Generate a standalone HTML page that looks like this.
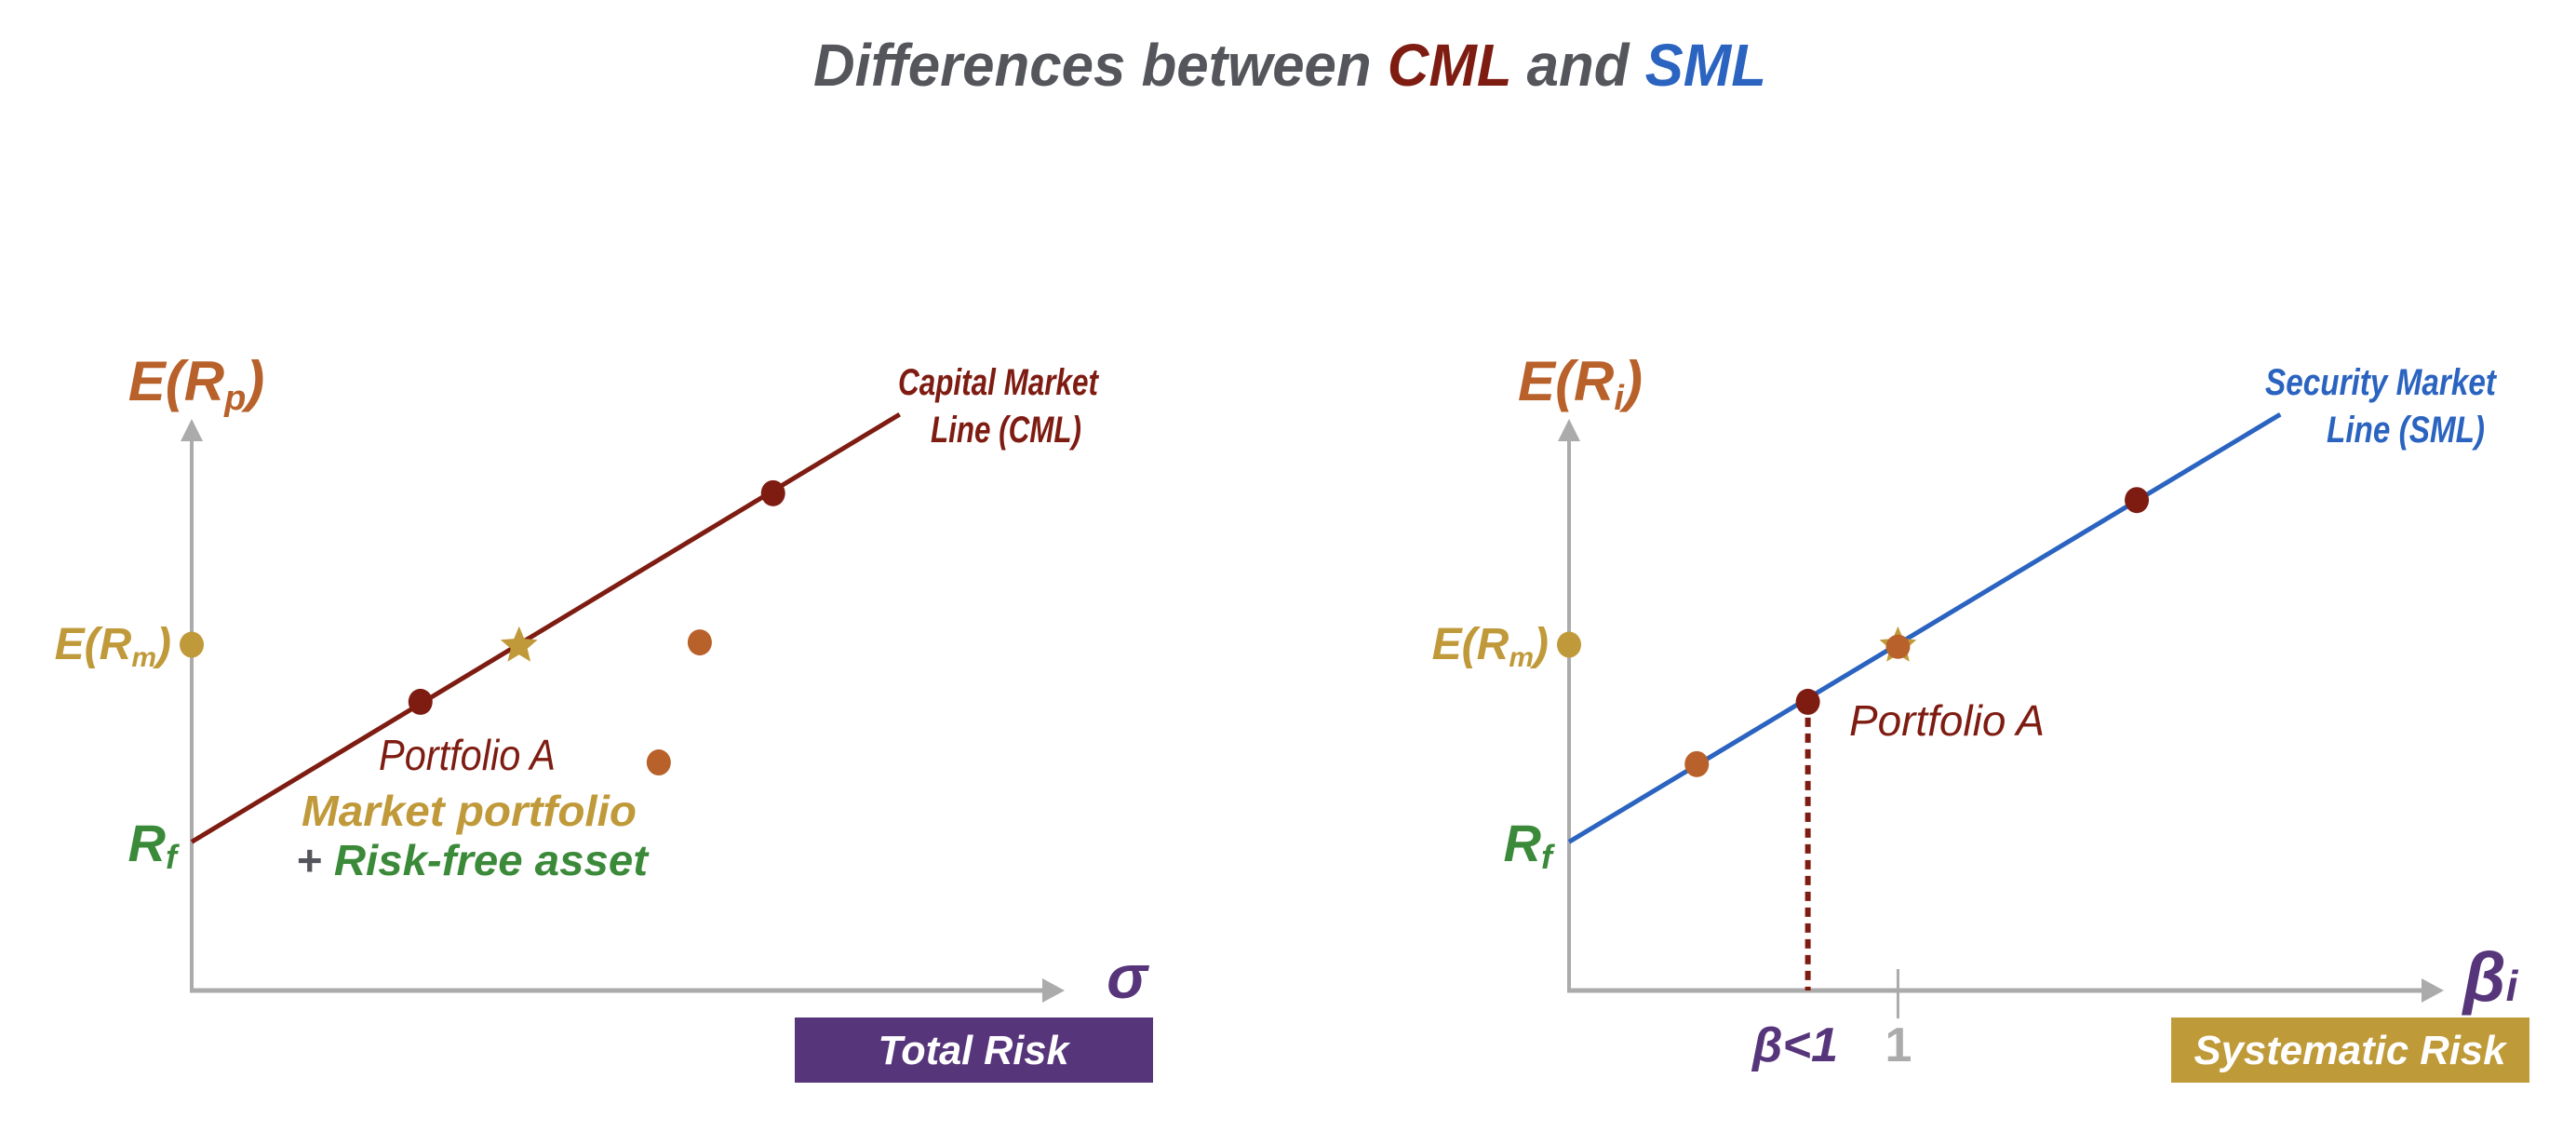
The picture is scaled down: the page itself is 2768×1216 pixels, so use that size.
<!DOCTYPE html>
<html><head><meta charset="utf-8"><style>
html,body{margin:0;padding:0;background:#fff;}
svg{display:block;font-family:"Liberation Sans",sans-serif;}
</style></head><body>
<svg id="chart" width="2768" height="1216" viewBox="0 0 2768 1216">
<text x="1386" y="92" text-anchor="middle" font-size="64" font-weight="bold" font-style="italic" fill="#54565c" textLength="1024" lengthAdjust="spacingAndGlyphs">Differences between <tspan fill="#7e1c12">CML</tspan> and <tspan fill="#2a63c0">SML</tspan></text>
<g id="left"></g>
<g id="right"></g>
</svg>
<script>
// CML data (sigma, expected return in 0-100 units)
const cmlLine = [[0, 26], [81.1, 100.8]];
const cmlDotsX = [26.2, 66.6];
const cmlDotsY = [50.5, 87];
const cmlStar = [37.5, 60.3];
const offDotsX = [58.2, 53.5];
const offDotsY = [60.9, 39.9];
const erm = 60.5;
// SML data (beta units, expected return)
const smlLine = [[0, 26], [81.3, 100.8]];
const smlOrangeX = [14.6];
const smlOrangeY = [39.6];
const smlDarkX = [27.3, 64.9];
const smlDarkY = [50.5, 85.8];
const smlStar = [37.6, 60.3];
const betaOne = 37.6;

const NS = 'http://www.w3.org/2000/svg';
function mk(parent, tag, attrs, text) {
  const e = document.createElementNS(NS, tag);
  for (const k in attrs) e.setAttribute(k, attrs[k]);
  if (text !== undefined) e.textContent = text;
  parent.appendChild(e);
  return e;
}
function starPts(cx, cy, R) {
  const p = [];
  for (let i = 0; i < 10; i++) {
    const r = i % 2 ? R * 0.45 : R;
    const a = -Math.PI / 2 + i * Math.PI / 5;
    p.push((cx + r * Math.cos(a)).toFixed(1) + ',' + (cy + r * Math.sin(a)).toFixed(1));
  }
  return p.join(' ');
}
const GREY = '#ababab', ORANGE = '#b8612a', GOLD = '#c09a3a', GREEN = '#3b8a3a', DRED = '#7e1c12', PURPLE = '#56357a';

function axes(g, x0, x1, y0, y1) {
  const a1 = mk(g, 'line', {x1: x0, y1: y0, x2: x0, y2: y1 + 20, stroke: GREY, 'stroke-width': 4});
  
  
  const h1 = mk(g, 'polygon', {points: `${x0 - 12},${y1 + 24} ${x0 + 12},${y1 + 24} ${x0},${y1}`, fill: GREY});
  
  
  const a2 = mk(g, 'line', {x1: x0 - 2, y1: y0, x2: x1 - 20, y2: y0, stroke: GREY, 'stroke-width': 5});
  
  
  const h2 = mk(g, 'polygon', {points: `${x1 - 24},${y0 - 13} ${x1 - 24},${y0 + 13} ${x1},${y0}`, fill: GREY});
  
  
}
function dot(g, x, y, c, name) {
  const d = mk(g, 'ellipse', {cx: x, cy: y, rx: 13, ry: 14, fill: c});
  
  
}
function txt(g, x, y, s, attrs, name, len) {
  const t = mk(g, 'text', Object.assign({x: x, y: y}, attrs), s);
  if (len) { t.setAttribute('textLength', len); t.setAttribute('lengthAdjust', 'spacingAndGlyphs'); }
  
  
  return t;
}
const BI = {'font-weight': 'bold', 'font-style': 'italic'};

// ---- Left chart ----
(function () {
  const g = document.getElementById('left');
  const X0 = 206, X1 = 1144, Y0 = 1064, Y1 = 450;
  const sx = v => X0 + v / 100 * (X1 - X0);
  const sy = v => Y0 - v / 100 * (Y0 - Y1);
  axes(g, X0, X1, Y0, Y1);
  const l = mk(g, 'line', {x1: sx(cmlLine[0][0]), y1: sy(cmlLine[0][1]), x2: sx(cmlLine[1][0]), y2: sy(cmlLine[1][1]), stroke: DRED, 'stroke-width': 5});
  
  
  dot(g, X0, sy(erm), GOLD, 'market-return-dot');
  for (let i = 0; i < cmlDotsX.length; i++) dot(g, sx(cmlDotsX[i]), sy(cmlDotsY[i]), DRED, 'cml-portfolio-dot');
  for (let i = 0; i < offDotsX.length; i++) dot(g, sx(offDotsX[i]), sy(offDotsY[i]), ORANGE, 'inefficient-portfolio-dot');
  const s = mk(g, 'polygon', {points: starPts(sx(cmlStar[0]), sy(cmlStar[1]), 21), fill: GOLD});
  
  
  txt(g, 211, 430, '', Object.assign({'font-size': 60, fill: ORANGE, 'text-anchor': 'middle'}, BI), 'y-axis-title').innerHTML = 'E(R<tspan font-size="38" dy="10">p</tspan><tspan dy="-10">)</tspan>';
  txt(g, 184, 708, '', Object.assign({'font-size': 48, fill: GOLD, 'text-anchor': 'end'}, BI), 'market-return-label').innerHTML = 'E(R<tspan font-size="30" dy="8">m</tspan><tspan dy="-8">)</tspan>';
  txt(g, 190, 925, '', Object.assign({'font-size': 56, fill: GREEN, 'text-anchor': 'end'}, BI), 'risk-free-label').innerHTML = 'R<tspan font-size="36" dy="8">f</tspan>';
  txt(g, 1180, 424, 'Capital Market', Object.assign({'font-size': 40, fill: DRED, 'text-anchor': 'end'}, BI), 'cml-label-line1', 215);
  txt(g, 1162, 475, 'Line (CML)', Object.assign({'font-size': 40, fill: DRED, 'text-anchor': 'end'}, BI), 'cml-label-line2', 162);
  txt(g, 502, 827, 'Portfolio A', {'font-size': 46, 'font-style': 'italic', fill: DRED, 'text-anchor': 'middle'}, 'portfolio-a-label', 190);
  txt(g, 504, 887, 'Market portfolio', Object.assign({'font-size': 46, fill: GOLD, 'text-anchor': 'middle'}, BI), 'market-portfolio-label', 360);
  txt(g, 507, 940, '', Object.assign({'font-size': 46, fill: GREEN, 'text-anchor': 'middle', textLength: 378, lengthAdjust: 'spacingAndGlyphs'}, BI), 'risk-free-asset-label').innerHTML = '<tspan fill="#54565c">+ </tspan>Risk-free asset';
  txt(g, 1211, 1072, 'σ', Object.assign({'font-size': 66, fill: PURPLE, 'text-anchor': 'middle'}, BI), 'x-axis-title');
  const b = mk(g, 'rect', {x: 854, y: 1093, width: 385, height: 70, fill: '#56357a'});
  
  
  txt(g, 1046, 1143, 'Total Risk', Object.assign({'font-size': 44, fill: '#fff', 'text-anchor': 'middle'}, BI), 'total-risk-label', 205);
})();

// ---- Right chart ----
(function () {
  const g = document.getElementById('right');
  const X0 = 1686, X1 = 2626, Y0 = 1064, Y1 = 450;
  const sx = v => X0 + v / 100 * (X1 - X0);
  const sy = v => Y0 - v / 100 * (Y0 - Y1);
  axes(g, X0, X1, Y0, Y1);
  const tk = mk(g, 'line', {x1: sx(betaOne), y1: 1041, x2: sx(betaOne), y2: 1094, stroke: GREY, 'stroke-width': 3});
  
  
  const dl = mk(g, 'line', {x1: sx(smlDarkX[0]), y1: sy(smlDarkY[0]), x2: sx(smlDarkX[0]), y2: Y0, stroke: DRED, 'stroke-width': 6, 'stroke-dasharray': '10 7'});
  
  
  const l = mk(g, 'line', {x1: sx(smlLine[0][0]), y1: sy(smlLine[0][1]), x2: sx(smlLine[1][0]), y2: sy(smlLine[1][1]), stroke: '#2a63c0', 'stroke-width': 5});
  
  
  dot(g, X0, sy(erm), GOLD, 'market-return-dot');
  for (let i = 0; i < smlOrangeX.length; i++) dot(g, sx(smlOrangeX[i]), sy(smlOrangeY[i]), ORANGE, 'security-dot');
  for (let i = 0; i < smlDarkX.length; i++) dot(g, sx(smlDarkX[i]), sy(smlDarkY[i]), DRED, 'sml-portfolio-dot');
  const s = mk(g, 'polygon', {points: starPts(sx(smlStar[0]), sy(smlStar[1]), 21), fill: GOLD});
  
  
  const c = mk(g, 'circle', {cx: sx(smlStar[0]), cy: sy(smlStar[1]) + 1, r: 13, fill: ORANGE});
  
  
  txt(g, 1698, 430, '', Object.assign({'font-size': 60, fill: ORANGE, 'text-anchor': 'middle'}, BI), 'y-axis-title').innerHTML = 'E(R<tspan font-size="38" dy="10">i</tspan><tspan dy="-10">)</tspan>';
  txt(g, 1664, 708, '', Object.assign({'font-size': 48, fill: GOLD, 'text-anchor': 'end'}, BI), 'market-return-label').innerHTML = 'E(R<tspan font-size="30" dy="8">m</tspan><tspan dy="-8">)</tspan>';
  txt(g, 1668, 925, '', Object.assign({'font-size': 56, fill: GREEN, 'text-anchor': 'end'}, BI), 'risk-free-label').innerHTML = 'R<tspan font-size="36" dy="8">f</tspan>';
  txt(g, 2682, 424, 'Security Market', Object.assign({'font-size': 40, fill: '#2a63c0', 'text-anchor': 'end'}, BI), 'sml-label-line1', 248);
  txt(g, 2670, 475, 'Line (SML)', Object.assign({'font-size': 40, fill: '#2a63c0', 'text-anchor': 'end'}, BI), 'sml-label-line2', 170);
  txt(g, 2092, 790, 'Portfolio A', {'font-size': 46, 'font-style': 'italic', fill: DRED, 'text-anchor': 'middle'}, 'portfolio-a-label', 210);
  txt(g, 1929, 1140, 'β<1', Object.assign({'font-size': 52, fill: PURPLE, 'text-anchor': 'middle'}, BI), 'beta-less-than-one-label', 92);
  txt(g, 2040, 1140, '1', {'font-size': 52, 'font-weight': 'bold', fill: GREY, 'text-anchor': 'middle'}, 'beta-one-label');
  txt(g, 2676, 1075, '', Object.assign({'font-size': 74, fill: PURPLE, 'text-anchor': 'middle'}, BI), 'x-axis-title').innerHTML = 'β<tspan font-size="46">i</tspan>';
  const b = mk(g, 'rect', {x: 2333, y: 1093, width: 385, height: 70, fill: '#bf9a38'});
  
  
  txt(g, 2525, 1143, 'Systematic Risk', Object.assign({'font-size': 44, fill: '#fff', 'text-anchor': 'middle'}, BI), 'systematic-risk-label', 335);
})();
</script>
</body></html>
